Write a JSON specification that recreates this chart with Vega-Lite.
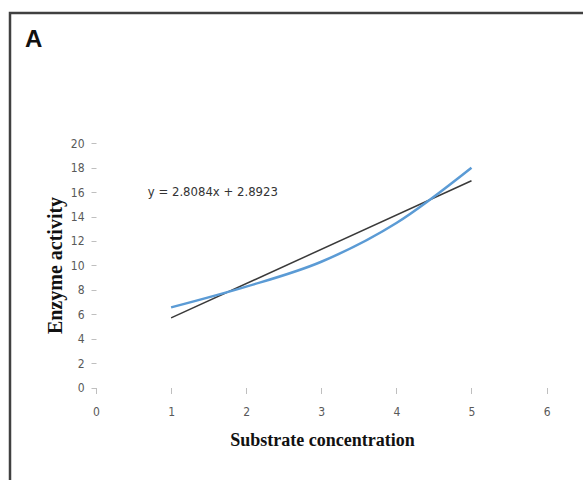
{
  "$schema": "https://vega.github.io/schema/vega-lite/v6.json",
  "width": 580,
  "height": 474,
  "autosize": {"type": "none"},
  "padding": {"left": 10, "top": 13, "right": -7, "bottom": -7},
  "background": "white",
  "view": {"stroke": "#404040", "strokeWidth": 2.5},
  "title": {
    "text": "A",
    "anchor": "start",
    "frame": "group",
    "orient": "top",
    "offset": 0,
    "baseline": "alphabetic",
    "dx": 15,
    "dy": 58,
    "font": "Liberation Sans",
    "fontSize": 24,
    "fontWeight": "bold",
    "color": "#111111"
  },
  "datasets": {
    "activity": [
      {"concentration": 1, "activity": 6.56},
      {"concentration": 2, "activity": 8.26},
      {"concentration": 3, "activity": 10.3},
      {"concentration": 4, "activity": 13.47},
      {"concentration": 5, "activity": 18.0}
    ],
    "trend": [
      {"concentration": 1, "activity": 5.70},
      {"concentration": 5, "activity": 16.93}
    ]
  },
  "layer": [
    {
      "mark": {"type": "rule", "color": "#bfbfbf", "strokeWidth": 1.5},
      "encoding": {
        "x": {"datum": 0, "type": "quantitative"},
        "x2": {"datum": 6},
        "y": {"datum": 0, "type": "quantitative"}
      }
    },
    {
      "mark": {"type": "rule", "color": "#bfbfbf", "strokeWidth": 1.5},
      "encoding": {
        "x": {"datum": 0, "type": "quantitative"},
        "y": {"datum": 0, "type": "quantitative"},
        "y2": {"datum": 20}
      }
    },
    {
      "data": {"name": "trend"},
      "mark": {"type": "line", "color": "#3a3a3a", "strokeWidth": 1.5},
      "encoding": {
        "x": {"field": "concentration", "type": "quantitative"},
        "y": {"field": "activity", "type": "quantitative"}
      }
    },
    {
      "data": {"name": "activity"},
      "mark": {"type": "line", "color": "#5b9bd5", "strokeWidth": 2.5, "interpolate": "monotone"},
      "encoding": {
        "x": {
          "field": "concentration",
          "type": "quantitative",
          "scale": {"domain": [-1.1451, 6.578], "nice": false, "zero": false},
          "axis": {
            "values": [0, 1, 2, 3, 4, 5, 6],
            "format": "d",
            "domain": false,
            "grid": false,
            "offset": -99.5,
            "ticks": true,
            "tickColor": "#bfbfbf",
            "tickSize": 6,
            "labelPadding": 13,
            "labelFont": "DejaVu Sans Condensed, Liberation Sans",
            "labelFontSize": 12,
            "labelColor": "#595959",
            "title": "Substrate concentration",
            "titleFont": "Liberation Serif",
            "titleFontSize": 18,
            "titleFontWeight": "bold",
            "titleColor": "#111111",
            "titleX": 312,
            "titleY": 53,
            "titleAlign": "center",
            "titleBaseline": "middle"
          }
        },
        "y": {
          "field": "activity",
          "type": "quantitative",
          "scale": {"domain": [-8.149, 30.672], "nice": false, "zero": false},
          "axis": {
            "values": [0, 2, 4, 6, 8, 10, 12, 14, 16, 18, 20],
            "format": "d",
            "domain": false,
            "grid": false,
            "offset": -86,
            "ticks": true,
            "tickColor": "#bfbfbf",
            "tickSize": 5,
            "labelPadding": 7,
            "labelFont": "DejaVu Sans Condensed, Liberation Sans",
            "labelFontSize": 12,
            "labelColor": "#595959",
            "title": "Enzyme activity",
            "titleFont": "Liberation Serif",
            "titleFontSize": 20,
            "titleFontWeight": "bold",
            "titleColor": "#111111",
            "titleAngle": -90,
            "titleX": -41,
            "titleY": 252,
            "titleAlign": "center",
            "titleBaseline": "middle"
          }
        }
      }
    },
    {
      "data": {"values": [{"label": "y = 2.8084x + 2.8923"}]},
      "mark": {
        "type": "text",
        "align": "left",
        "baseline": "middle",
        "font": "DejaVu Sans Condensed, Liberation Sans",
        "fontSize": 13,
        "fill": "#333333"
      },
      "encoding": {
        "x": {"datum": 0.69, "type": "quantitative"},
        "y": {"datum": 16, "type": "quantitative"},
        "text": {"field": "label"}
      }
    }
  ]
}
